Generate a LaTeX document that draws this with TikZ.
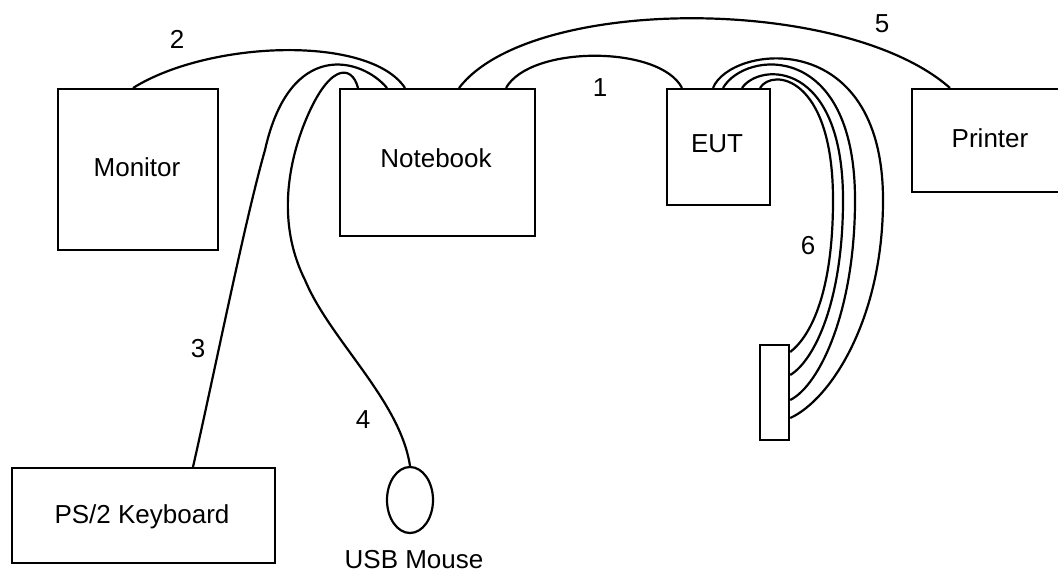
\documentclass[tikz,border=0pt]{standalone}
\usepackage{fontspec}
\setmainfont{Liberation Sans}
\usetikzlibrary{calc,shapes.geometric}
\tikzset{
  unit/.style={draw, line width=1.1pt, inner sep=0pt, anchor=north west},
  cable/.style={line width=1.1pt},
  lbl/.style={inner sep=0pt, anchor=base, font=\fontsize{13}{15}\selectfont},
}
\begin{document}
\begin{tikzpicture}[x=0.5pt, y=-0.5pt]
\useasboundingbox (0,0) rectangle (1058,571);

% equipment
\node[unit, minimum width=80pt, minimum height=80.5pt] (mon) at (57,88) {};
\node[unit, minimum width=97.5pt, minimum height=73.5pt] (nb) at (339,88) {};
\node[unit, minimum width=51.5pt, minimum height=58pt] (eut) at (666,88) {};
\node[unit, minimum width=79.5pt, minimum height=51.5pt] (pr) at (911,88) {};
\node[unit, minimum width=131.5pt, minimum height=47.5pt] (kb) at (11,467) {};
\node[unit, minimum width=14.5pt, minimum height=47.5pt] (con) at (759,344) {};
\node[draw, line width=1.1pt, ellipse, inner sep=0pt, minimum width=23pt, minimum height=33pt] (ms) at (410,500) {};

% names
\node[lbl] (tmon) at (137,177) {Monitor};
\node[lbl] (tnb) at (436,168) {Notebook};
\node[lbl] (teut) at (717,153) {EUT};
\node[lbl] (tpr) at (990,148) {Printer};
\node[lbl] (tkb) at (142,523) {PS/2 Keyboard};
\node[lbl] (tms) at (414,568) {USB Mouse};

% cable numbers
\node[lbl] (n1) at (600,97) {1};
\node[lbl] (n2) at (177,49) {2};
\node[lbl] (n3) at (198,357) {3};
\node[lbl] (n4) at (363,428) {4};
\node[lbl] (n5) at (882,33) {5};
\node[lbl] (n6) at (808,255) {6};

% 1: notebook - EUT
\draw[cable] ($(nb.north west)+(167,0)$) .. controls (530,45) and (660,45) .. ($(eut.north west)+(16,0)$);
% 2: notebook - monitor
\draw[cable] ($(mon.north west)+(76,0)$) .. controls (210,40) and (370,35) .. ($(nb.north west)+(66,0)$);
% 3: notebook - keyboard
\draw[cable] ($(nb.north west)+(48,0)$) .. controls (362,58) and (290,38) .. (265,150)
  .. controls (245,220) and (215,370) .. ($(kb.north west)+(182,0)$);
% 4: notebook - mouse
\draw[cable] ($(nb.north west)+(19,0)$) .. controls (352,64) and (328,62) .. (303,127)
  .. controls (285,175) and (280,230) .. (305,280)
  .. controls (330,340) and (400,400) .. (ms.north);
% 5: notebook - printer
\draw[cable] ($(nb.north west)+(120,0)$) .. controls (530,-5) and (845,-5) .. ($(pr.north west)+(39,0)$);
% 6: EUT - connector (four wires)
\draw[cable] ($(eut.north west)+(47,0)$) .. controls (730,45) and (883,25) .. (883,200)
  .. controls (883,320) and (830,400) .. ($(con.north east)+(0,74)$);
\draw[cable] ($(eut.north west)+(57,0)$) .. controls (745,50) and (855,40) .. (855,200)
  .. controls (855,310) and (820,385) .. ($(con.north east)+(0,56)$);
\draw[cable] ($(eut.north west)+(76,0)$) .. controls (760,62) and (843,60) .. (843,200)
  .. controls (843,300) and (815,360) .. ($(con.north east)+(0,31)$);
\draw[cable] ($(eut.north west)+(94,0)$) .. controls (772,68) and (833,75) .. (833,200)
  .. controls (833,290) and (812,335) .. ($(con.north east)+(0,8)$);
\end{tikzpicture}
\end{document}
